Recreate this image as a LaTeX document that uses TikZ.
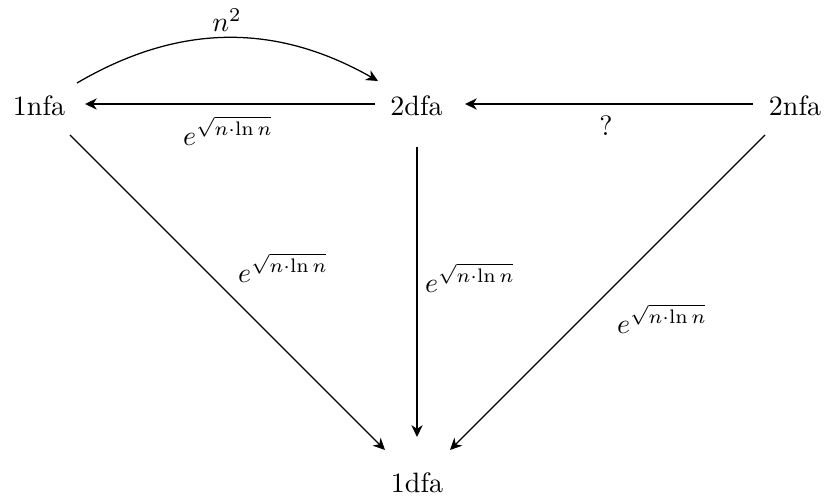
\documentclass[tikz,border=0pt]{standalone}
\usetikzlibrary{arrows.meta,calc}
\begin{document}
\begin{tikzpicture}[x=0.357pt,y=-0.357pt,
  state/.style={inner sep=0pt,anchor=center},
  lab/.style={inner sep=0pt,anchor=center},
  arr/.style={-{Stealth[length=4.2pt,width=4pt,inset=1.3pt]},line width=0.45pt}]
\useasboundingbox (0,0) rectangle (825,499);
\node[state] (n1) at (39,106) {1nfa};
\node[state] (d2) at (416.5,106) {2dfa};
\node[state] (n2) at (795,105.5) {2nfa};
\node[state] (d1) at (417,483) {1dfa};
% top arc
\draw[arr] ($(n1)+(38,-23)$) to[bend left=30] ($(d2)+(-38.5,-25)$);
\node[lab] (ln2) at (227,20) {$n^2$};
% horizontal arrows
\draw[arr] ($(d2)+(-41.5,-2)$) -- ($(n1)+(46,-2)$);
\node[lab] (l1) at (228,131) {$e^{\sqrt{n\cdot\ln n}}$};
\draw[arr] ($(n2)+(-42,-1.5)$) -- ($(d2)+(48.5,-2)$);
\node[lab] (lq) at (606,126) {?};
% to 1dfa
\draw[arr] ($(n1)+(31,29)$) -- ($(d1)+(-32,-33)$);
\node[lab] (l2) at (283,268) {$e^{\sqrt{n\cdot\ln n}}$};
\draw[arr] ($(d2)+(0.5,41)$) -- ($(d1)+(0,-46)$);
\node[lab] (l3) at (470,278) {$e^{\sqrt{n\cdot\ln n}}$};
\draw[arr] ($(n2)+(-30,29.5)$) -- ($(d1)+(33,-33)$);
\node[lab] (l4) at (662,319) {$e^{\sqrt{n\cdot\ln n}}$};
\end{tikzpicture}
\end{document}
